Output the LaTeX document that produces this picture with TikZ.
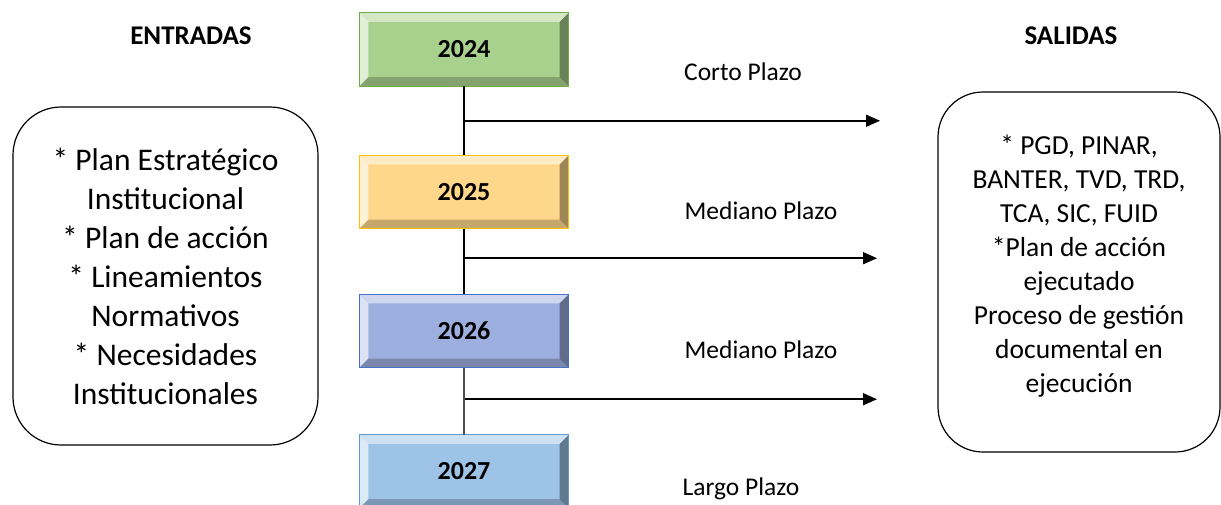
\documentclass[tikz,border=0pt]{standalone}
\usepackage{fontspec}
\setmainfont{Carlito}
\usepackage{xcolor}
\usetikzlibrary{arrows.meta}
\usetikzlibrary{calc}

\definecolor{verde}{HTML}{A9D18E}
\definecolor{verdeb}{HTML}{70AD47}
\definecolor{amarillo}{HTML}{FFD78A}
\definecolor{amarillob}{HTML}{FFC000}
\definecolor{azul}{HTML}{9DAFDF}
\definecolor{azulb}{HTML}{4472C4}
\definecolor{celeste}{HTML}{9DC3E6}
\definecolor{celesteb}{HTML}{5B9BD5}

\tikzset{
  anio/.style={minimum width=209pt,minimum height=73pt,inner sep=0pt,
    font=\fontsize{26}{30}\selectfont\bfseries},
  caja/.style={draw,line width=1.2pt,rounded corners=48pt,align=center},
  titulo/.style={font=\fontsize{27}{32}\selectfont\bfseries},
  plazo/.style={font=\fontsize{25.5}{30}\selectfont},
  linea/.style={line width=1.3pt},
  flecha/.style={line width=1.6pt,-{Triangle[length=14pt,width=12pt]}},
}

\begin{document}
\begin{tikzpicture}[x=1pt,y=-1pt]
\useasboundingbox (0,0) rectangle (1221,504);

\node[titulo] (ent) at (191,36) {ENTRADAS};
\node[titulo] (sal) at (1071,36) {SALIDAS};

\node[anio,fill=verde] (y24) at (464,49.5) {};
\node[anio,fill=amarillo] (y25) at (464,192) {};
\node[anio,fill=azul] (y26) at (464,331) {};
\node[anio,fill=celeste] (y27) at (464,471.5) {};

\fill[verde!50!white] (y24.north west) -- (y24.north east) -- ([shift={(-9,9)}]y24.north east) -- ([shift={(9,9)}]y24.north west) -- cycle;
\fill[verde!35!white] (y24.north west) -- (y24.south west) -- ([shift={(9,-9)}]y24.south west) -- ([shift={(9,9)}]y24.north west) -- cycle;
\fill[verde!78!black] (y24.south west) -- (y24.south east) -- ([shift={(-9,-9)}]y24.south east) -- ([shift={(9,-9)}]y24.south west) -- cycle;
\fill[verde!62!black] (y24.north east) -- (y24.south east) -- ([shift={(-9,-9)}]y24.south east) -- ([shift={(-9,9)}]y24.north east) -- cycle;
\draw[verdeb,line width=1.2pt] (y24.north west) rectangle (y24.south east);
\node[anio] (t24) at (y24) {2024};

\fill[amarillo!50!white] (y25.north west) -- (y25.north east) -- ([shift={(-9,9)}]y25.north east) -- ([shift={(9,9)}]y25.north west) -- cycle;
\fill[amarillo!35!white] (y25.north west) -- (y25.south west) -- ([shift={(9,-9)}]y25.south west) -- ([shift={(9,9)}]y25.north west) -- cycle;
\fill[amarillo!78!black] (y25.south west) -- (y25.south east) -- ([shift={(-9,-9)}]y25.south east) -- ([shift={(9,-9)}]y25.south west) -- cycle;
\fill[amarillo!62!black] (y25.north east) -- (y25.south east) -- ([shift={(-9,-9)}]y25.south east) -- ([shift={(-9,9)}]y25.north east) -- cycle;
\draw[amarillob,line width=1.2pt] (y25.north west) rectangle (y25.south east);
\node[anio] (t25) at (y25) {2025};

\fill[azul!50!white] (y26.north west) -- (y26.north east) -- ([shift={(-9,9)}]y26.north east) -- ([shift={(9,9)}]y26.north west) -- cycle;
\fill[azul!35!white] (y26.north west) -- (y26.south west) -- ([shift={(9,-9)}]y26.south west) -- ([shift={(9,9)}]y26.north west) -- cycle;
\fill[azul!78!black] (y26.south west) -- (y26.south east) -- ([shift={(-9,-9)}]y26.south east) -- ([shift={(9,-9)}]y26.south west) -- cycle;
\fill[azul!62!black] (y26.north east) -- (y26.south east) -- ([shift={(-9,-9)}]y26.south east) -- ([shift={(-9,9)}]y26.north east) -- cycle;
\draw[azulb,line width=1.2pt] (y26.north west) rectangle (y26.south east);
\node[anio] (t26) at (y26) {2026};

\fill[celeste!50!white] (y27.north west) -- (y27.north east) -- ([shift={(-9,9)}]y27.north east) -- ([shift={(9,9)}]y27.north west) -- cycle;
\fill[celeste!35!white] (y27.north west) -- (y27.south west) -- ([shift={(9,-9)}]y27.south west) -- ([shift={(9,9)}]y27.north west) -- cycle;
\fill[celeste!78!black] (y27.south west) -- (y27.south east) -- ([shift={(-9,-9)}]y27.south east) -- ([shift={(9,-9)}]y27.south west) -- cycle;
\fill[celeste!62!black] (y27.north east) -- (y27.south east) -- ([shift={(-9,-9)}]y27.south east) -- ([shift={(-9,9)}]y27.north east) -- cycle;
\draw[celesteb,line width=1.2pt] (y27.north west) rectangle (y27.south east);
\node[anio] (t27) at (y27) {2027};

\draw[linea] (y24) -- (y25);
\draw[linea] (y25) -- (y26);
\draw[linea,black!70] (y26) -- (y27);

\coordinate (p1) at ($(y24.south)!0.5!(y25.north)+(1,0)$);
\coordinate (p2) at ($(y25.south)!0.45!(y26.north)+(1,0)$);
\coordinate (p3) at ($(y26.south)!0.47!(y27.north)+(1,0)$);
\coordinate (f1) at ($(p1)+(415,0)$);
\coordinate (f2) at ($(p2)+(412,0)$);
\coordinate (f3) at ($(p3)+(412,0)$);
\draw[flecha] (p1) -- (f1);
\draw[flecha] (p2) -- (f2);
\draw[flecha] (p3) -- (f3);

\node[plazo] (corto) at (743,72) {Corto Plazo};
\node[plazo] (mediano1) at (761,211) {Mediano Plazo};
\node[plazo] (mediano2) at (761,350) {Mediano Plazo};
\node[plazo] (largo) at (741,489) {Largo Plazo};

\node[caja,minimum width=305pt,minimum height=338pt,
  font=\fontsize{31.5}{39}\selectfont] (entradas) at (165.5,276)
  {* Plan Estratégico\\Institucional\\* Plan de acción\\* Lineamientos\\Normativos\\* Necesidades\\Institucionales};
\node[caja,minimum width=282pt,minimum height=360pt,rounded corners=45pt,
  font=\fontsize{27.5}{34}\selectfont] (salidas) at (1079,272)
  {* PGD, PINAR,\\BANTER, TVD, TRD,\\TCA, SIC, FUID\\*Plan de acción\\ejecutado\\Proceso de gestión\\documental en\\ejecución\\[-18pt]};
\end{tikzpicture}
\end{document}
